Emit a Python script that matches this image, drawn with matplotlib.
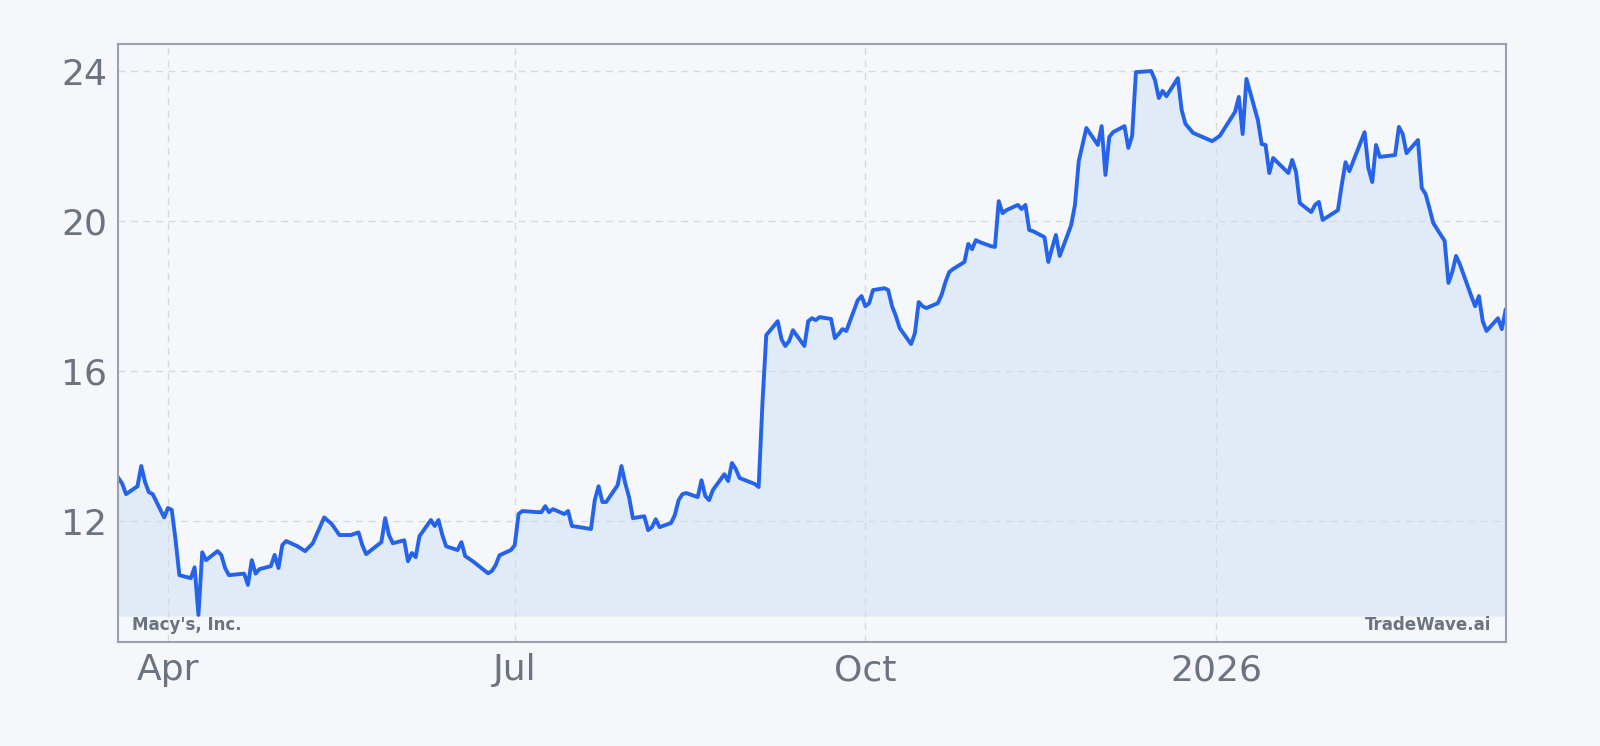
import matplotlib
matplotlib.use("Agg")
import matplotlib.pyplot as plt
import matplotlib.dates as mdates
import pandas as pd

dates = ["2025-03-19","2025-03-20","2025-03-21","2025-03-24","2025-03-25","2025-03-26","2025-03-27","2025-03-28","2025-03-31",
"2025-04-01","2025-04-02","2025-04-03","2025-04-04","2025-04-07","2025-04-08","2025-04-09","2025-04-10","2025-04-11","2025-04-14",
"2025-04-15","2025-04-16","2025-04-17","2025-04-21","2025-04-22","2025-04-23","2025-04-24","2025-04-25","2025-04-28","2025-04-29",
"2025-04-30","2025-05-01","2025-05-02","2025-05-05","2025-05-07","2025-05-09","2025-05-12","2025-05-14","2025-05-16","2025-05-19",
"2025-05-21","2025-05-22","2025-05-23","2025-05-27","2025-05-28","2025-05-29","2025-05-30","2025-06-02","2025-06-03","2025-06-04",
"2025-06-05","2025-06-06","2025-06-09","2025-06-10","2025-06-11","2025-06-12","2025-06-13","2025-06-16","2025-06-17","2025-06-18",
"2025-06-20","2025-06-24","2025-06-25","2025-06-26","2025-06-27","2025-06-30","2025-07-01","2025-07-02","2025-07-03","2025-07-07",
"2025-07-08","2025-07-09","2025-07-10","2025-07-11","2025-07-14","2025-07-15","2025-07-16","2025-07-18","2025-07-21","2025-07-22",
"2025-07-23","2025-07-24","2025-07-25","2025-07-28","2025-07-29","2025-07-30","2025-07-31","2025-08-01","2025-08-04","2025-08-05",
"2025-08-06","2025-08-07","2025-08-08","2025-08-11","2025-08-12","2025-08-13","2025-08-14","2025-08-15","2025-08-18","2025-08-19",
"2025-08-20","2025-08-21","2025-08-22","2025-08-25","2025-08-26","2025-08-27","2025-08-28","2025-08-29","2025-09-02","2025-09-03",
"2025-09-04","2025-09-05","2025-09-08","2025-09-09","2025-09-10","2025-09-11","2025-09-12","2025-09-15","2025-09-16","2025-09-17",
"2025-09-18","2025-09-19","2025-09-22","2025-09-23","2025-09-24","2025-09-25","2025-09-26","2025-09-29","2025-09-30","2025-10-01",
"2025-10-02","2025-10-03","2025-10-06","2025-10-07","2025-10-08","2025-10-09","2025-10-10","2025-10-13","2025-10-14","2025-10-15",
"2025-10-16","2025-10-17","2025-10-20","2025-10-21","2025-10-22","2025-10-23","2025-10-24","2025-10-27","2025-10-28","2025-10-29",
"2025-10-30","2025-10-31","2025-11-03","2025-11-04","2025-11-05","2025-11-06","2025-11-07","2025-11-10","2025-11-11","2025-11-12",
"2025-11-13","2025-11-14","2025-11-17","2025-11-18","2025-11-19","2025-11-20","2025-11-21","2025-11-24","2025-11-25","2025-11-26",
"2025-11-28","2025-12-01","2025-12-02","2025-12-03","2025-12-04","2025-12-05","2025-12-08","2025-12-09","2025-12-10","2025-12-11",
"2025-12-15","2025-12-16","2025-12-17","2025-12-18","2025-12-19","2025-12-22","2025-12-23","2025-12-24","2025-12-26","2025-12-31",
"2026-01-02","2026-01-06","2026-01-07","2026-01-08","2026-01-09","2026-01-12","2026-01-13","2026-01-14","2026-01-15","2026-01-16",
"2026-01-20","2026-01-21","2026-01-22","2026-01-23","2026-01-26","2026-01-27","2026-01-28","2026-01-29","2026-02-02","2026-02-03",
"2026-02-04","2026-02-05","2026-02-09","2026-02-10","2026-02-11","2026-02-12","2026-02-13","2026-02-17","2026-02-18","2026-02-19",
"2026-02-20","2026-02-23","2026-02-24","2026-02-25","2026-02-26","2026-02-27","2026-03-02","2026-03-03","2026-03-04","2026-03-05",
"2026-03-06","2026-03-09","2026-03-10","2026-03-11","2026-03-12","2026-03-13","2026-03-16","2026-03-17","2026-03-18"]

prices = [13.15,13.0,12.72,12.93,13.47,13.04,12.77,12.72,12.1,
12.35,12.3,11.5,10.56,10.48,10.77,9.5,11.17,10.96,11.2,
11.1,10.75,10.56,10.6,10.3,10.96,10.6,10.72,10.8,11.1,
10.75,11.36,11.47,11.33,11.2,11.41,12.1,11.92,11.63,11.63,
11.7,11.36,11.12,11.44,12.08,11.63,11.41,11.49,10.93,11.15,
11.04,11.6,12.03,11.87,12.03,11.63,11.33,11.23,11.44,11.07,
10.93,10.61,10.67,10.83,11.09,11.23,11.36,12.19,12.27,12.24,
12.24,12.4,12.24,12.32,12.19,12.27,11.87,11.84,11.79,12.56,
12.93,12.51,12.51,12.96,13.47,13.01,12.64,12.08,12.13,11.76,
11.84,12.05,11.84,11.95,12.16,12.56,12.72,12.75,12.64,13.09,
12.67,12.56,12.83,13.25,13.07,13.55,13.39,13.15,12.99,12.91,
15.15,16.96,17.33,16.85,16.67,16.8,17.09,16.67,17.33,17.41,
17.36,17.44,17.39,16.88,16.99,17.12,17.07,17.89,18.0,17.73,
17.81,18.16,18.21,18.16,17.73,17.47,17.15,16.72,17.01,17.84,
17.73,17.68,17.81,18.03,18.37,18.64,18.72,18.91,19.39,19.25,
19.49,19.44,19.33,19.31,20.53,20.21,20.29,20.43,20.32,20.43,
19.76,19.73,19.57,18.91,19.28,19.63,19.07,19.89,20.43,21.6,
22.48,22.03,22.53,21.23,22.24,22.37,22.53,21.95,22.27,23.97,
24.0,23.76,23.28,23.47,23.33,23.81,22.96,22.59,22.35,22.13,
22.27,22.91,23.31,22.32,23.79,22.69,22.05,22.03,21.28,21.68,
21.28,21.63,21.31,20.48,20.24,20.43,20.51,20.03,20.29,20.96,
21.57,21.33,22.37,21.41,21.04,22.03,21.71,21.76,22.51,22.32,
21.81,22.16,20.88,20.72,20.35,19.95,19.47,18.35,18.64,19.07,
18.85,18.0,17.73,18.0,17.33,17.07,17.41,17.12,17.63]

yticks = [12, 16, 20, 24]
fill_base = 9.47

x = pd.to_datetime(dates)
bg = "#f5f7fa"
fig = plt.figure(figsize=(16, 7.46), dpi=100, facecolor=bg)
ax = fig.add_axes([0.074, 0.139, 0.867, 0.802], facecolor=bg)
ax.fill_between(x, prices, fill_base, color="#dbe8f7", alpha=0.75, lw=0)
ax.plot(x, prices, color="#2563eb", lw=2.8)
ax.set_xlim(x[0], x[-1])
ax.set_ylim(8.77, 24.72)
ax.set_yticks(yticks)
ax.set_xticks(pd.to_datetime(["2025-04-01", "2025-07-01", "2025-10-01", "2026-01-01"]))
ax.set_xticklabels(["Apr", "Jul", "Oct", "2026"])
ax.grid(True, color="#d5d9e0", ls=(0, (5, 4)), lw=1)
ax.tick_params(labelsize=26, colors="#6b7280", length=0, pad=8)
for s in ax.spines.values():
    s.set_color("#9aa0b0"); s.set_linewidth(1.5)
ax.text(0.01, 0.02, "Macy's, Inc.", transform=ax.transAxes, fontsize=12, fontweight="bold", color="#6b7280")
ax.text(0.99, 0.02, "TradeWave.ai", transform=ax.transAxes, fontsize=12, fontweight="bold", color="#6b7280", ha="right")
fig.savefig("out.png", dpi=100, facecolor=bg)
